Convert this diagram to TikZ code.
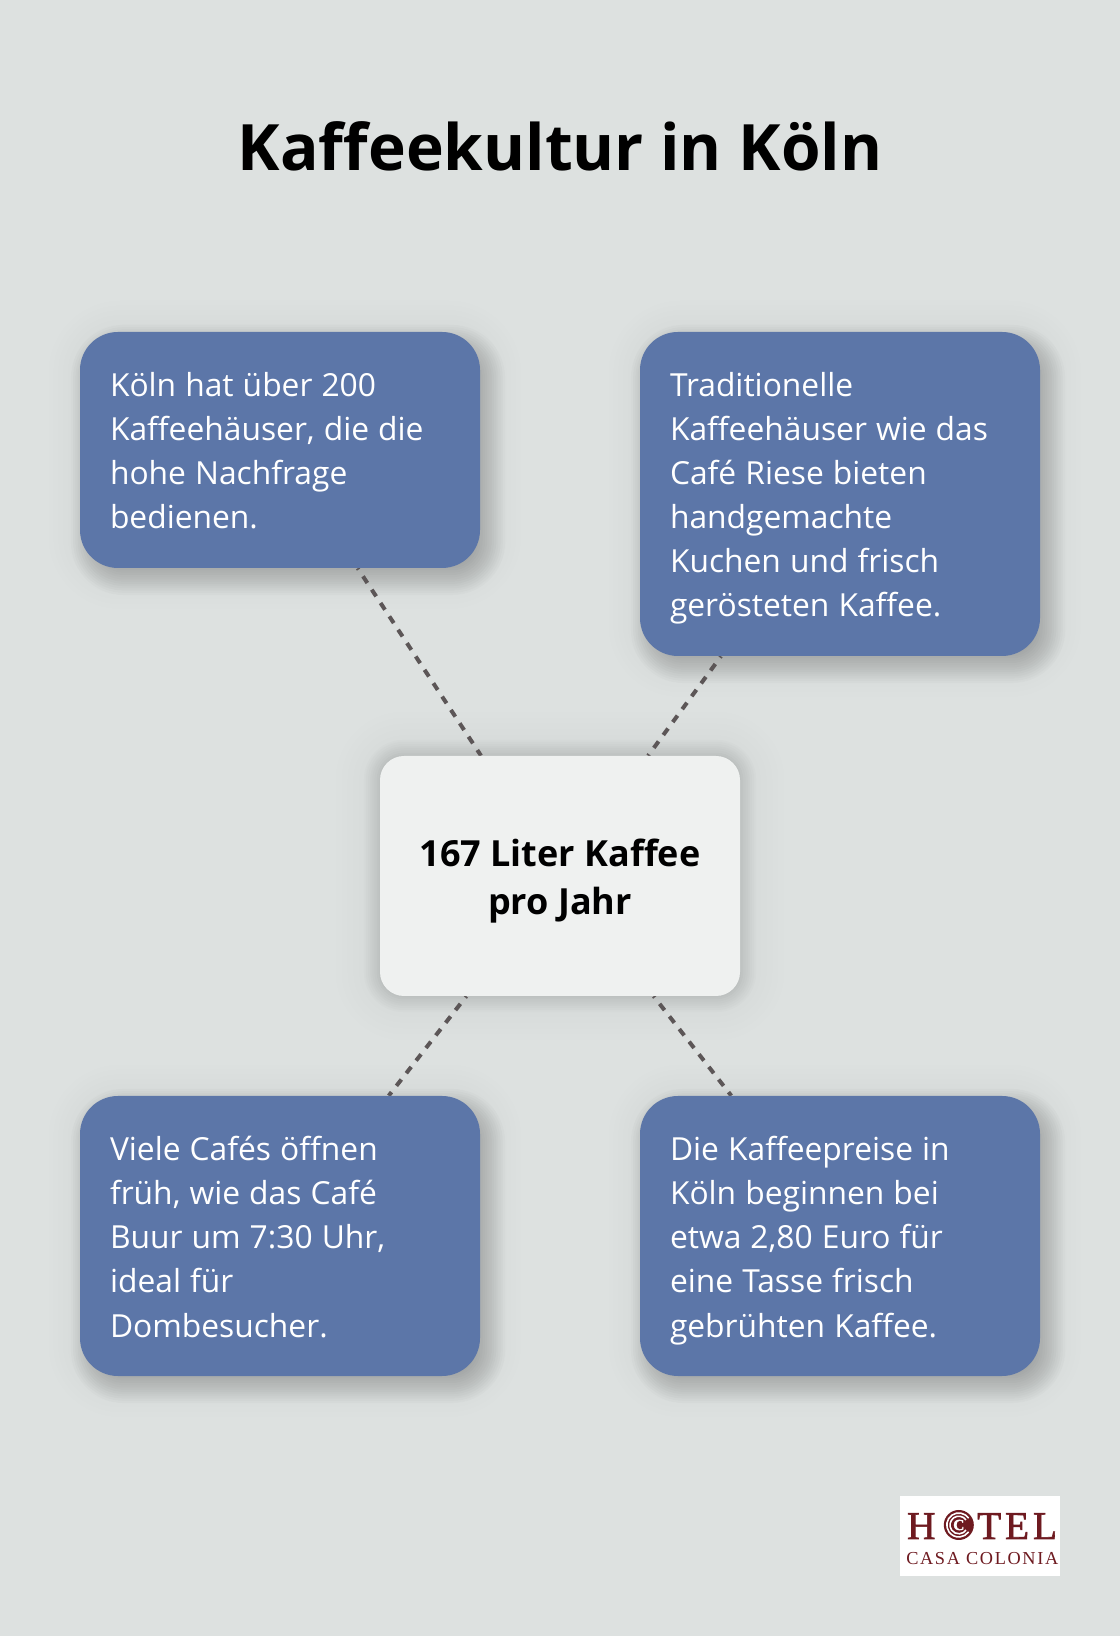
\documentclass[tikz,border=0pt]{standalone}
\usepackage{fontspec}
\setmainfont{Open Sans}
\newfontfamily\logofont[FakeBold=1.5]{Liberation Serif}
\newfontfamily\logotel[LetterSpace=10,FakeBold=1.5]{Liberation Serif}
\newfontfamily\logocasa[LetterSpace=9]{Liberation Serif}
\usetikzlibrary{backgrounds,calc}
\definecolor{pagebg}{HTML}{DDE1E0}
\definecolor{boxblue}{HTML}{5C76A8}
\definecolor{boxpale}{HTML}{EFF1F0}
\definecolor{linkgrey}{HTML}{5C5657}
\definecolor{logored}{HTML}{6E1A20}
\tikzset{
    factbox/.style={fill=boxblue,text=white,rounded corners=0.95cm,minimum width=10cm,text width=8.5cm,inner sep=0.75cm,align=left,font=\fontsize{22.6}{31.3}\selectfont,
        execute at begin node={\spaceskip=0.285em\rule{0pt}{0.875cm}},execute at end node={\rule[-0.225cm]{0pt}{0.225cm}}},
    keybox/.style={fill=boxpale,text=black,rounded corners=0.6cm,minimum width=9cm,minimum height=6cm,text width=8cm,inner sep=0.5cm,align=center,font=\fontsize{25.6}{34.4}\selectfont\bfseries,
        execute at begin node={\spaceskip=0.26em\rule{0pt}{0.98cm}},execute at end node={\rule[-0.25cm]{0pt}{0.25cm}}},
    link/.style={draw=linkgrey,line width=0.1cm,dash pattern=on 0.2cm off 0.2cm,dash phase=0.16cm},
    logotext/.style={text=logored,inner sep=0pt,anchor=base west},
}
\newcommand{\softshadow}[6]{
    \foreach \i in {0,...,15} {
        \pgfmathsetmacro{\grow}{#4*(\i/7.5-1)}
        \pgfmathsetmacro{\bend}{max(0.05,#6+\grow)}
        \fill[black,opacity=#5,rounded corners=\bend cm]
            ($(#1.south west)+(#2cm,#3cm)+(-\grow cm,-\grow cm)$) rectangle
            ($(#1.north east)+(#2cm,#3cm)+(\grow cm,\grow cm)$);
    }
}
\begin{document}
\begin{tikzpicture}
            \node[font=\fontsize{45.5}{50}\selectfont\bfseries] (title) at (14,37.25) {Kaffeekultur in Köln};
            \node[factbox] (hauser) at (7,29.65) {Köln hat über 200\\Kaffeehäuser, die die\\hohe Nachfrage\\bedienen.};
            \node[factbox] (riese) at (21,28.55) {Traditionelle\\Kaffeehäuser wie das\\Café Riese bieten\\handgemachte\\Kuchen und frisch\\gerösteten Kaffee.};
            \node[factbox] (buur) at (7,10) {Viele Cafés öffnen\\früh, wie das Café\\Buur um 7:30 Uhr,\\ideal für\\Dombesucher.};
            \node[factbox] (preise) at (21,10) {Die Kaffeepreise in\\Köln beginnen bei\\etwa 2,80 Euro für\\eine Tasse frisch\\gebrühten Kaffee.};
            \node[keybox] (liter) at (14,19) {167 Liter Kaffee\\pro Jahr};
            \node[fill=white,minimum width=4cm,minimum height=2cm] (logo) at (24.5,2.5) {};
            \node[logotext,font=\logofont\fontsize{28}{28}\selectfont] (logoh) at (22.67,2.425) {H};
            \fill[logored] (23.97,2.775) circle (0.375);
            \draw[white,line width=0.04cm] (23.97,2.775) ++(35:0.3) arc (35:325:0.3);
            \draw[white,line width=0.04cm] (23.97,2.775) ++(35:0.22) arc (35:325:0.22);
            \node[text=white,inner sep=0pt,font=\logofont\bfseries\fontsize{11}{11}\selectfont] (logoc) at (23.97,2.775) {C};
            \node[logotext,font=\logotel\fontsize{28}{28}\selectfont] (logot) at (24.42,2.425) {TEL};
            \node[logotext,font=\logocasa\fontsize{13}{13}\selectfont] (logocasa) at (22.65,1.775) {CASA COLONIA};
            \begin{scope}[on background layer]
                \fill[pagebg] (0,0) rectangle (28,40.9);
                \softshadow{hauser}{0.12}{-0.12}{0.9}{0.005}{0.9}
                \softshadow{hauser}{0.2}{-0.25}{0.42}{0.017}{0.9}
                \softshadow{riese}{0.12}{-0.12}{0.9}{0.005}{0.9}
                \softshadow{riese}{0.2}{-0.25}{0.42}{0.017}{0.9}
                \softshadow{buur}{0.12}{-0.12}{0.9}{0.005}{0.9}
                \softshadow{buur}{0.2}{-0.25}{0.42}{0.017}{0.9}
                \softshadow{preise}{0.12}{-0.12}{0.9}{0.005}{0.9}
                \softshadow{preise}{0.2}{-0.25}{0.42}{0.017}{0.9}
                \softshadow{liter}{0}{0}{1.1}{0.004}{0.6}
                \softshadow{liter}{0}{0}{0.4}{0.011}{0.6}
                \draw[link] (hauser) -- (liter);
                \draw[link] (riese) -- (liter);
                \draw[link] (liter) -- (buur);
                \draw[link] (liter) -- (preise);
            \end{scope}
            \useasboundingbox (0,0) rectangle (28,40.9);
        \end{tikzpicture}
\end{document}
